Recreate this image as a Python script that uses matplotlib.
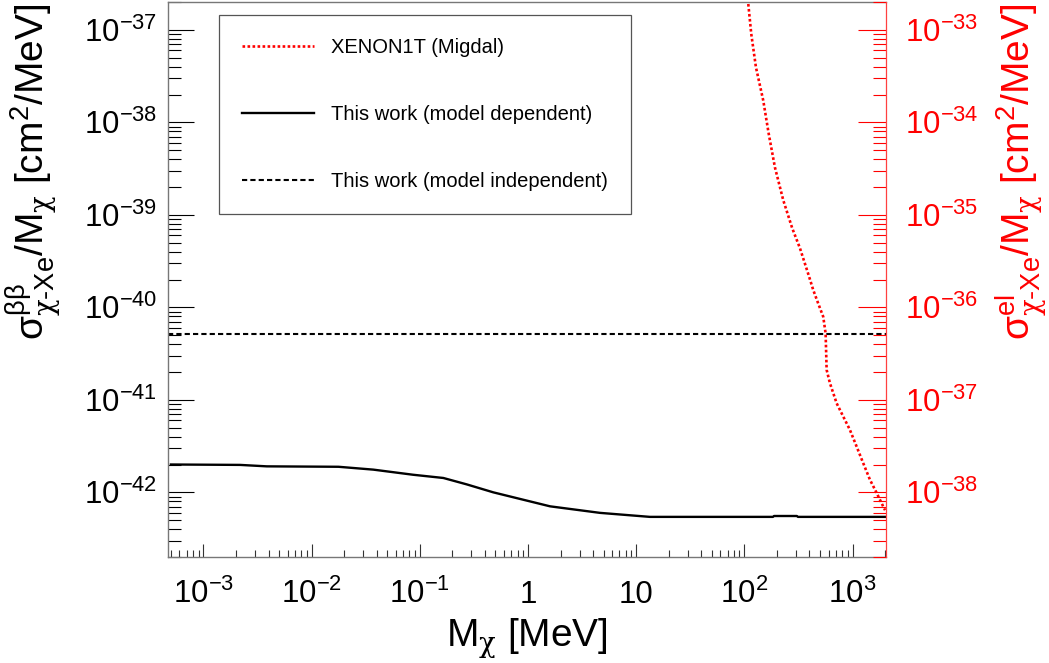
"""Dark matter - Xe cross section limits vs mass (ROOT-style plot)"""
import numpy as np
import matplotlib
matplotlib.use('Agg')
from matplotlib import pyplot as plt
from matplotlib.ticker import LogLocator, NullFormatter, FuncFormatter, FixedLocator

# This work, model dependent limit (left axis) [cm^2/MeV]
mass_dep = [5e-4, 2.18e-3, 3.85e-3, 1.77e-2, 3.72e-2, 8.65e-2, 0.165, 0.271, 0.478,
            0.843, 1.60, 4.63, 13.4, 184, 188, 306, 313, 2000]
sigma_dep = [2.0e-42, 1.98e-42, 1.91e-42, 1.89e-42, 1.76e-42, 1.55e-42, 1.43e-42,
             1.22e-42, 1.0e-42, 8.49e-43, 7.06e-43, 6.0e-43, 5.43e-43, 5.43e-43,
             5.55e-43, 5.55e-43, 5.43e-43, 5.43e-43]

# This work, model independent limit (flat)
sigma_indep = 5.2e-41

# XENON1T Migdal limit (right axis) [cm^2/MeV]
mass_xe = [105.7, 108.7, 115.8, 128, 149.6, 167.8, 191.8, 229, 277.3, 326.5, 395.4,
           433.5, 482, 536, 564, 571, 576.5, 618, 713, 821, 946, 1091, 1256, 1449,
           1671, 1950, 2000]
sigma_xe = [2.65e-33, 1.92e-33, 9.1e-34, 3.94e-34, 1.72e-34, 7.59e-35, 3.26e-35,
            1.44e-35, 7.16e-36, 4.37e-36, 2.18e-36, 1.54e-36, 1.10e-36, 7.93e-37,
            5.25e-37, 3.19e-37, 2.11e-37, 1.52e-37, 9.2e-38, 6.6e-38, 4.74e-38,
            3.13e-38, 2.07e-38, 1.37e-38, 9.86e-39, 6.79e-39, 6.42e-39]

x_ticks = [1e-3, 1e-2, 1e-1, 1, 10, 100, 1000]
y_ticks_left = [1e-42, 1e-41, 1e-40, 1e-39, 1e-38, 1e-37]
y_ticks_right = [1e-38, 1e-37, 1e-36, 1e-35, 1e-34, 1e-33]

plt.rcParams['font.family'] = 'Liberation Sans'
plt.rcParams['mathtext.fontset'] = 'custom'
plt.rcParams['mathtext.rm'] = 'Liberation Sans'
plt.rcParams['mathtext.it'] = 'Liberation Sans:italic'
plt.rcParams['mathtext.bf'] = 'Liberation Sans:bold'
plt.rcParams['mathtext.sf'] = 'DejaVu Serif'   # used for the chi glyph only
plt.rcParams['mathtext.default'] = 'regular'


def root_log_fmt(v, pos):
    """ROOT-like log labels: 1, 10, 10^n"""
    e = int(round(np.log10(v)))
    if e == 0:
        return '1'
    if e == 1:
        return '10'
    return r'$10^{%d}$' % e


fig = plt.figure(figsize=(10.49, 6.63), dpi=100)
ax = fig.add_axes([168 / 1049, 1 - 557 / 663, 718 / 1049, 555 / 663])
ax2 = ax.twinx()

ax.set_xscale('log')
ax.set_yscale('log')
ax2.set_yscale('log')
ax.set_xlim(4.7e-4, 2.04e3)
ax.set_ylim(2e-43, 2e-37)
ax2.set_ylim(2e-39, 2e-33)

l_dep, = ax.plot(mass_dep, sigma_dep, color='black', lw=1.7, solid_joinstyle='round')
l_ind = ax.axhline(sigma_indep, color='black', lw=1.5, linestyle=(0, (2.5, 1.5)))
l_xe, = ax2.plot(mass_xe, sigma_xe, color='red', lw=1.9, linestyle=(0, (1, 0.9)))

# ticks
for a, yt in ((ax, y_ticks_left), (ax2, y_ticks_right)):
    a.yaxis.set_major_locator(FixedLocator(yt))
    a.yaxis.set_minor_locator(LogLocator(base=10, subs=np.arange(2, 10), numticks=20))
    a.yaxis.set_minor_formatter(NullFormatter())
    a.yaxis.set_major_formatter(FuncFormatter(root_log_fmt))
ax.xaxis.set_major_locator(FixedLocator(x_ticks))
ax.xaxis.set_minor_locator(LogLocator(base=10, subs=np.arange(2, 10), numticks=20))
ax.xaxis.set_minor_formatter(NullFormatter())
ax.xaxis.set_major_formatter(FuncFormatter(root_log_fmt))

ax.tick_params(axis='y', which='major', direction='in', length=18.5, width=0.8,
               color='black', labelsize=22.5, pad=8, right=False)
ax.tick_params(axis='y', which='minor', direction='in', length=9.5, width=0.8,
               color='black', right=False, labelleft=False)
ax.tick_params(axis='x', which='major', direction='in', length=9.5, width=0.8,
               color='#333333', labelsize=22.5, pad=33, top=False)
ax.tick_params(axis='x', which='minor', direction='in', length=4.7, width=0.8,
               color='#333333', top=False, labelbottom=False)
ax2.tick_params(axis='y', which='major', direction='in', length=20, width=0.8,
                colors='red', labelsize=22.5, pad=14)
ax2.tick_params(axis='y', which='minor', direction='in', length=9.5, width=0.8,
                color='red', labelright=False)
for lbl in ax.get_xticklabels():
    lbl.set_verticalalignment('baseline')

for s in ('left', 'top', 'bottom'):
    ax.spines[s].set_color('#777777')
    ax.spines[s].set_linewidth(1.0)
    ax2.spines[s].set_visible(False)
ax.spines['right'].set_visible(False)
ax2.spines['right'].set_color('#ff4040')
ax2.spines['right'].set_linewidth(0.9)

# axis titles
ax.set_xlabel(r'$M_{\mathsf{\chi}}$ [MeV]', fontsize=28)
ax.xaxis.set_label_coords(0.5, -0.106)
ax.set_ylabel(r'$\sigma^{\beta\beta}_{\mathsf{\chi}\text{-}Xe}/M_{\mathsf{\chi}}$ [cm$^{2}$/MeV]',
              fontsize=28, loc='top')
ax.yaxis.set_label_coords(-0.145, 0.997)
ax2.set_ylabel(r'$\sigma^{el}_{\mathsf{\chi}\text{-}Xe}/M_{\mathsf{\chi}}$ [cm$^{2}$/MeV]',
               fontsize=28, loc='top', color='red')
ax2.yaxis.set_label_coords(1.150, 0.997)

leg = ax2.legend([l_xe, l_dep, l_ind],
                 ['XENON1T (Migdal)', 'This work (model dependent)',
                  'This work (model independent)'],
                 loc='upper left', bbox_to_anchor=(0.071, 0.9766), borderaxespad=0,
                 fontsize=14.5, handlelength=3.58, handletextpad=0.83,
                 labelspacing=2.37, borderpad=1.15, fancybox=False, framealpha=1,
                 edgecolor='#555555')
leg.get_frame().set_linewidth(0.9)

fig.savefig('out.png', dpi=100)
